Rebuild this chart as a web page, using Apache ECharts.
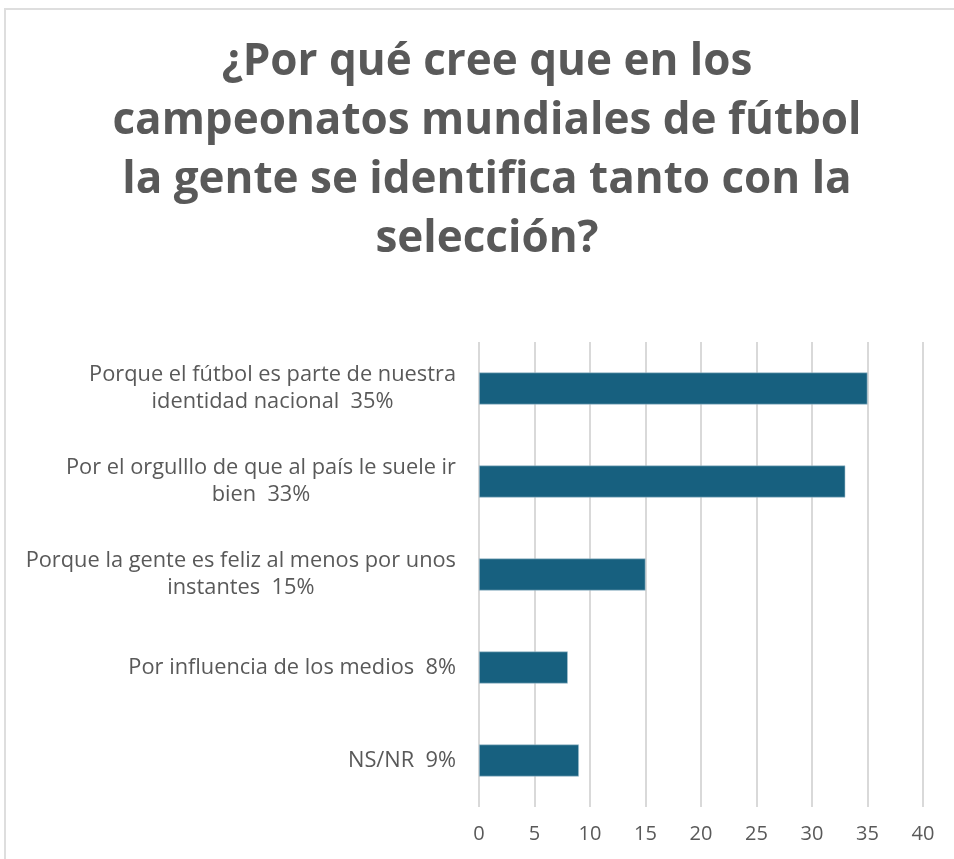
<!DOCTYPE html>
<html>
<head>
<meta charset="utf-8">
<script src="https://cdn.jsdelivr.net/npm/echarts@6/dist/echarts.min.js"></script>
<style>
  html, body { margin: 0; padding: 0; background: #fff; overflow: hidden; }
  #chart { width: 954px; height: 859px; }
  #frame {
    position: absolute; left: 4px; top: 8px; right: -20px; bottom: -20px;
    border: 2px solid #dedede; pointer-events: none;
  }
</style>
</head>
<body>
<div id="chart"></div>
<div id="frame"></div>
<script>
// categorias (de arriba hacia abajo), con su salto de linea como en el original
var categories = [
  'Porque el fútbol es parte de nuestra\nidentidad nacional  35%',
  'Por el orgulllo de que al país le suele ir\nbien  33%',
  'Porque la gente es feliz al menos por unos\ninstantes  15%',
  'Por influencia de los medios  8%',
  'NS/NR  9%'
]
var values = [35, 33, 15, 8, 9]
var titleText = '¿Por qué cree que en los\ncampeonatos mundiales de fútbol\nla gente se identifica tanto con la\nselección?'

var chart = echarts.init(document.getElementById('chart'))

var option = {
  backgroundColor: '#fff',
  animation: false,
  title: {
    text: titleText,
    left: 487, // el titulo va algo a la derecha del centro
    textAlign: 'center',
    top: 33,
    padding: 0,
    textStyle: {
      fontFamily: 'Open Sans',
      fontSize: 44,
      fontWeight: 'bold',
      color: '#595959',
      lineHeight: 59
    }
  },
  grid: {
    left: 479,
    right: 31,
    top: 342,
    bottom: 52,
    containLabel: false
  },
  xAxis: {
    type: 'value',
    min: 0,
    max: 40,
    interval: 5,
    axisLine: { show: false },
    axisTick: { show: false },
    splitLine: { lineStyle: { color: '#d9d9d9', width: 2 } },
    axisLabel: {
      margin: 17,
      color: '#595959',
      fontFamily: 'Open Sans',
      fontSize: 20
    }
  },
  yAxis: {
    type: 'category',
    inverse: true,
    data: categories,
    axisLine: { show: false },
    axisTick: { show: false },
    splitLine: { show: false },
    axisLabel: {
      margin: 23,
      align: 'right',
      // cada linea centrada dentro del bloque alineado a la derecha
      formatter: function (value) {
        return value.split('\n').map(function (s) { return '{c|' + s + '}' }).join('\n')
      },
      rich: {
        c: {
          align: 'center',
          color: '#595959',
          fontFamily: 'Open Sans',
          fontSize: 21.8,
          lineHeight: 27
        }
      }
    }
  },
  series: [
    {
      type: 'bar',
      data: values,
      barWidth: 32,
      itemStyle: {
        color: '#17607f',
        borderColor: '#a9c4d2',
        borderWidth: 0.6
      }
    }
  ]
}
chart.setOption(option)
</script>
</body>
</html>
